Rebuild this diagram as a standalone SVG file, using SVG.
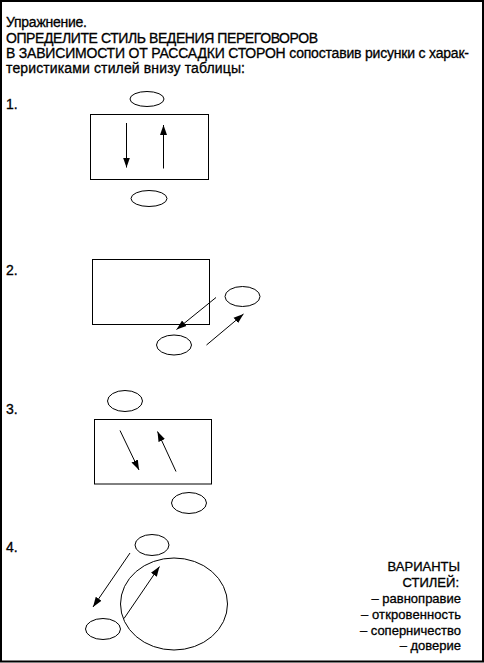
<svg xmlns="http://www.w3.org/2000/svg" width="484" height="663" viewBox="0 0 484 663">
<defs>
<style>
text{font-family:"Liberation Sans",Arial,sans-serif;font-size:13px;fill:#000;stroke:#000;stroke-width:0.3}
.h{font-size:14px}
.r{text-anchor:end}
.s{fill:none;stroke:#000;stroke-width:1}
.a{fill:none;stroke:#000;stroke-width:1;marker-end:url(#ah)}
</style>
<marker id="ah" markerUnits="userSpaceOnUse" markerWidth="10" markerHeight="8" refX="10" refY="4" orient="auto">
<path d="M0,0.5 L10,4 L0,7.5 z" fill="#000"/>
</marker>
</defs>
<rect x="0" y="0" width="484" height="663" fill="#fff"/>
<rect x="1" y="1" width="482" height="660.5" fill="none" stroke="#000" stroke-width="2"/>
<g id="title">
<text class="h" x="6" y="27" textLength="81">Упражнение.</text>
<text class="h" x="6" y="42.5" textLength="312">ОПРЕДЕЛИТЕ СТИЛЬ ВЕДЕНИЯ ПЕРЕГОВОРОВ</text>
<text class="h" x="6" y="58" textLength="463">В ЗАВИСИМОСТИ ОТ РАССАДКИ СТОРОН сопоставив рисунки с харак-</text>
<text class="h" x="6" y="73" textLength="239">теристиками стилей внизу таблицы:</text>
</g>
<g id="fig1">
<text class="h" x="6" y="109">1.</text>
<g id="f1-top"><ellipse class="s" cx="147" cy="99" rx="17" ry="7.5"/></g>
<g id="f1-table"><rect class="s" x="90.5" y="114.5" width="118" height="65"/></g>
<g id="f1-bottom"><ellipse class="s" cx="149" cy="198.5" rx="18" ry="8"/></g>
</g>
<g id="fig2">
<text class="h" x="6" y="275">2.</text>
<g id="f2-table"><rect class="s" x="92.5" y="259.5" width="117" height="65"/></g>
<g id="f2-right"><ellipse class="s" cx="242.5" cy="296.5" rx="17.5" ry="10"/></g>
<g id="f2-bottom"><ellipse class="s" cx="174" cy="345" rx="17.5" ry="10"/></g>
</g>
<g id="fig3">
<text class="h" x="6" y="414">3.</text>
<g id="f3-top"><ellipse class="s" cx="125" cy="401" rx="17.5" ry="10.5"/></g>
<g id="f3-table"><rect class="s" x="94.5" y="419.5" width="117" height="64.5"/></g>
<g id="f3-bottom"><ellipse class="s" cx="189" cy="503" rx="17.5" ry="10.5"/></g>
</g>
<g id="fig4">
<text class="h" x="6" y="552">4.</text>
<g id="f4-top"><ellipse class="s" cx="152" cy="545" rx="17" ry="10.5"/></g>
<g id="f4-table"><ellipse class="s" cx="174" cy="604" rx="53.5" ry="46"/></g>
<g id="f4-left"><ellipse class="s" cx="103" cy="629" rx="17.5" ry="10.5"/></g>
</g>
<g id="connectors">
<line class="a" x1="126.5" y1="123" x2="126.5" y2="167.5"/>
<line class="a" x1="163.5" y1="168.5" x2="163.5" y2="125"/>
<line class="a" x1="216" y1="297.5" x2="176.5" y2="329.5"/>
<line class="a" x1="206.5" y1="345" x2="243.5" y2="314"/>
<line class="a" x1="120" y1="430.5" x2="139" y2="470"/>
<line class="a" x1="176" y1="471.5" x2="157.5" y2="431.5"/>
<line class="a" x1="130" y1="553" x2="93" y2="607"/>
<line class="a" x1="124" y1="618.5" x2="159.5" y2="566.5"/>
</g>
<g id="styles">
<text class="r" x="460" y="571">ВАРИАНТЫ</text>
<text class="r" x="459" y="587">СТИЛЕЙ:</text>
<text class="r" x="461" y="603">– равноправие</text>
<text class="r" x="461" y="619" textLength="100">– откровенность</text>
<text class="r" x="461" y="634.5">– соперничество</text>
<text class="r" x="461" y="650">– доверие</text>
</g>
</svg>
